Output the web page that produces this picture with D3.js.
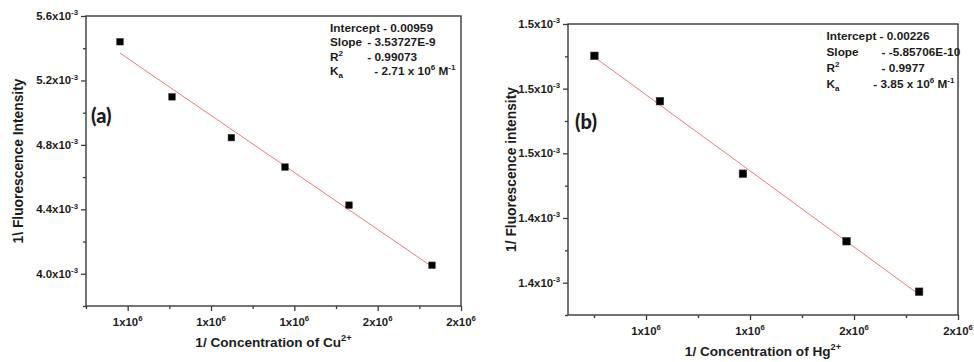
<!DOCTYPE html>
<html>
<head>
<meta charset="utf-8">
<script src="https://cdn.jsdelivr.net/npm/d3@7"></script>
<style>
  html, body { margin: 0; padding: 0; background: #fff; }
  svg { display: block; }
  text { font-family: "Liberation Sans", Arial, sans-serif; font-weight: bold; fill: #1c1c1c; }
</style>
</head>
<body>
<svg id="chart" width="974" height="362"></svg>
<script>
// ---- Panel (a): Cu2+ ----
const cuX = [1.1908e6, 1.2532e6, 1.3244e6, 1.3888e6, 1.4656e6, 1.5652e6];
const cuY = [5.440e-3, 5.098e-3, 4.845e-3, 4.6625e-3, 4.426e-3, 4.053e-3];
const cuXDomain = [1.15e6, 1.6e6];
const cuYDomain = [3.8e-3, 5.6e-3];
const cuXTicks = [1.2e6, 1.3e6, 1.4e6, 1.5e6, 1.6e6];
const cuXMinor = [1.15e6, 1.25e6, 1.35e6, 1.45e6, 1.55e6];
const cuYTicks = [4.0e-3, 4.4e-3, 4.8e-3, 5.2e-3, 5.6e-3];
const cuYMinor = [3.8e-3, 4.2e-3, 4.6e-3, 5.0e-3, 5.4e-3];
const cuStatNames = ["Slope", "R", "K"];
const cuStatValues = ["- 3.53727E-9", "- 0.99073", "- 2.71 x 10"];
const cuIntercept = "Intercept - 0.00959";

// ---- Panel (b): Hg2+ ----
const hgX = [1.3752e6, 1.4067e6, 1.4466e6, 1.4964e6, 1.5313e6];
const hgY = [1.48771e-3, 1.47016e-3, 1.44213e-3, 1.41601e-3, 1.39651e-3];
const hgXDomain = [1.3625e6, 1.55e6];
const hgYDomain = [1.3875e-3, 1.5e-3];
const hgXTicks = [1.40e6, 1.45e6, 1.50e6, 1.55e6];
const hgXMinor = [1.375e6, 1.425e6, 1.475e6, 1.525e6];
const hgYTicks = [1.400e-3, 1.425e-3, 1.450e-3, 1.475e-3, 1.500e-3];
const hgYMinor = [1.3875e-3, 1.4125e-3, 1.4375e-3, 1.4625e-3, 1.4875e-3];
const hgStatNames = ["Slope", "R", "K"];
const hgStatValues = ["- -5.85706E-10", "- 0.9977", "- 3.85 x 10"];
const hgIntercept = "Intercept - 0.00226";

const svg = d3.select("#chart");

// Write text made of runs: {t, sup} / {t, sub}
function rich(g, x, y, parts, size, anchor) {
  const t = g.append("text").attr("x", x).attr("y", y)
    .attr("font-size", size).attr("text-anchor", anchor || "start");
  let shift = 0;
  parts.forEach(p => {
    const s = t.append("tspan").text(p.t);
    let target = 0;
    if (p.sup) target = -size * 0.42;
    if (p.sub) target = size * 0.25;
    s.attr("dy", target - shift);
    shift = target;
    if (p.sup || p.sub) s.attr("font-size", size * 0.68);
  });
  return t;
}

function linearFit(xs, ys) {
  const mx = d3.mean(xs), my = d3.mean(ys);
  let sxy = 0, sxx = 0;
  xs.forEach((x, i) => { sxy += (x - mx) * (ys[i] - my); sxx += (x - mx) * (x - mx); });
  const slope = sxy / sxx;
  return { slope, intercept: my - slope * mx };
}

function panel(o) {
  const g = svg.append("g");
  const x = d3.scaleLinear().domain(o.xDomain).range([o.left, o.right]);
  const y = d3.scaleLinear().domain(o.yDomain).range([o.bottom, o.top]);

  // frame
  g.append("rect").attr("x", o.left).attr("y", o.top)
    .attr("width", o.right - o.left).attr("height", o.bottom - o.top)
    .attr("fill", "none").attr("stroke", "#3a3a3a").attr("stroke-width", 1.4);

  const styleAxis = a => {
    a.select(".domain").remove();
    a.selectAll("line").attr("stroke", "#3a3a3a").attr("stroke-width", 1.3);
    a.selectAll("text").remove();
  };
  g.append("g").attr("transform", `translate(0,${o.bottom})`)
    .call(d3.axisBottom(x).tickValues(o.xTicks).tickSize(5).tickFormat(""))
    .call(styleAxis);
  g.append("g").attr("transform", `translate(0,${o.bottom})`)
    .call(d3.axisBottom(x).tickValues(o.xMinor).tickSize(3).tickFormat(""))
    .call(styleAxis);
  g.append("g").attr("transform", `translate(${o.left},0)`)
    .call(d3.axisLeft(y).tickValues(o.yTicks).tickSize(5).tickFormat(""))
    .call(styleAxis);
  g.append("g").attr("transform", `translate(${o.left},0)`)
    .call(d3.axisLeft(y).tickValues(o.yMinor).tickSize(3).tickFormat(""))
    .call(styleAxis);

  // tick labels
  o.xTicks.forEach(v => {
    const m = Math.round(v / 1e6 + 1e-9);
    rich(g, x(v), o.bottom + 19.5, [{ t: m + "x10" }, { t: "6", sup: true }], 11.4, "middle");
  });
  o.yTicks.forEach(v => {
    const m = (Math.round(v * 1e4 + 1e-6) / 10).toFixed(1);
    rich(g, o.left - 8, y(v) + 4, [{ t: m + "x10" }, { t: "-3", sup: true }], 11.4, "end");
  });

  // axis titles
  rich(g, (o.left + o.right) / 2, o.bottom + 41, o.xTitle, 13.6, "middle");
  g.append("text").attr("font-size", 13.8).attr("text-anchor", "middle")
    .attr("transform", `translate(${o.yTitleX},${(o.top + o.bottom) / 2}) rotate(-90)`)
    .text(o.yTitle);

  // fit line across the data range
  const fit = linearFit(o.xs, o.ys);
  const xr = d3.extent(o.xs);
  g.append("line")
    .attr("x1", x(xr[0])).attr("y1", y(fit.intercept + fit.slope * xr[0]))
    .attr("x2", x(xr[1])).attr("y2", y(fit.intercept + fit.slope * xr[1]))
    .attr("stroke", "#ea7a7a").attr("stroke-width", 1);

  // data markers
  g.selectAll("rect.pt").data(o.xs.map((v, i) => [v, o.ys[i]])).join("rect")
    .attr("class", "pt")
    .attr("x", d => x(d[0]) - o.ms / 2).attr("y", d => y(d[1]) - o.ms / 2)
    .attr("width", o.ms).attr("height", o.ms)
    .attr("fill", "#000").attr("stroke", "#333").attr("stroke-width", 0.6);

  // panel letter
  g.append("text").attr("x", o.letterX).attr("y", o.letterY)
    .attr("font-size", 20)
    .style("font-family", "Lato, 'Open Sans', sans-serif")
    .style("font-weight", "900")
    .text(o.letter);

  // fit statistics
  const fs = 11.8;
  rich(g, o.statX, o.statY[0], [{ t: o.intercept }], fs, "start");
  rich(g, o.statX, o.statY[1], [{ t: o.names[0] }], fs, "start");
  rich(g, o.valX[0], o.statY[1], [{ t: o.values[0] }], fs, "start");
  rich(g, o.statX, o.statY[2], [{ t: o.names[1] }, { t: "2", sup: true }], fs, "start");
  rich(g, o.valX[1], o.statY[2], [{ t: o.values[1] }], fs, "start");
  rich(g, o.statX, o.statY[3], [{ t: o.names[2] }, { t: "a", sub: true }], fs, "start");
  rich(g, o.valX[2], o.statY[3],
    [{ t: o.values[2] }, { t: "6", sup: true }, { t: " M" }, { t: "-1", sup: true }], fs, "start");
}

panel({
  left: 86, right: 461, top: 16, bottom: 306,
  xDomain: cuXDomain, yDomain: cuYDomain,
  xTicks: cuXTicks, xMinor: cuXMinor, yTicks: cuYTicks, yMinor: cuYMinor,
  xs: cuX, ys: cuY, ms: 6.5,
  xTitle: [{ t: "1/ Concentration of Cu" }, { t: "2+", sup: true }],
  yTitle: "1\\ Fluorescence Intensity", yTitleX: 23,
  letter: "(a)", letterX: 91, letterY: 123,
  intercept: cuIntercept, names: cuStatNames, values: cuStatValues,
  statX: 330, statY: [32, 46.3, 60.6, 74.8], valX: [367.3, 367.3, 374.3]
});

panel({
  left: 568, right: 958, top: 24, bottom: 315,
  xDomain: hgXDomain, yDomain: hgYDomain,
  xTicks: hgXTicks, xMinor: hgXMinor, yTicks: hgYTicks, yMinor: hgYMinor,
  xs: hgX, ys: hgY, ms: 7.5,
  xTitle: [{ t: "1/ Concentration of Hg" }, { t: "2+", sup: true }],
  yTitle: "1/ Fluorescence intensity", yTitleX: 516,
  letter: "(b)", letterX: 575, letterY: 129,
  intercept: hgIntercept, names: hgStatNames, values: hgStatValues,
  statX: 826.5, statY: [39.7, 56.2, 72.3, 88], valX: [881.5, 881.5, 873.3]
});
</script>
</body>
</html>
